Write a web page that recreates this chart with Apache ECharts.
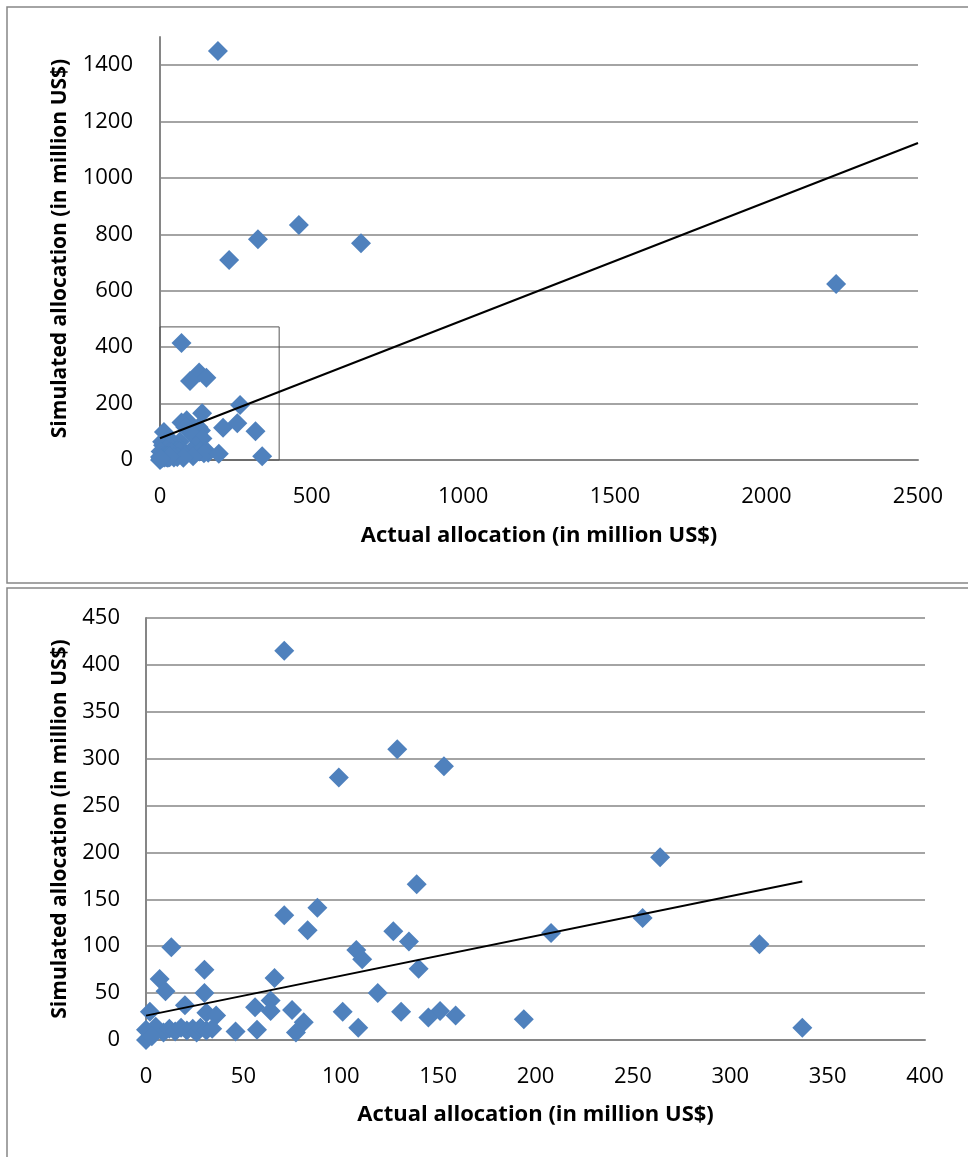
<!DOCTYPE html>
<html>
<head>
<meta charset="utf-8">
<script src="https://cdn.jsdelivr.net/npm/echarts@6/dist/echarts.min.js"></script>
<style>
html, body { margin: 0; padding: 0; background: #fff; }
#chart { width: 968px; height: 1157px; }
</style>
</head>
<body>
<div id="chart"></div>
<script>
// actual vs simulated allocation (million US$)
const actualAlloc = [
  71, 129, 153, 99, 264, 139, 88, 71, 255, 83,
  127, 208, 135, 315, 13, 108, 111, 140, 30, 66,
  7, 10, 30, 119, 64, 20, 56, 75, 2, 31,
  64, 101, 131, 151, 36, 159, 145, 194, 81, 109,
  337, 57, 46, 77, 0, 0, 5, 9, 12, 15,
  18, 21, 24, 26, 28, 31, 34, 3, 191, 228,
  323, 458, 663, 2230
];
const simulatedAlloc = [
  415, 310, 292, 280, 195, 166, 141, 133, 130, 117,
  116, 114, 105, 102, 99, 96, 86, 76, 75, 66,
  65, 52, 50, 50, 42, 37, 35, 32, 30, 29,
  31, 30, 30, 31, 26, 26, 24, 22, 19, 13,
  13, 11, 9, 8, 0, 11, 14, 8, 12, 9,
  13, 10, 12, 8, 13, 10, 12, 4, 1450, 709,
  783, 833, 769, 624
];
// linear trend lines (end points)
const trendAll = [[0, 77], [2500, 1124]];
const trendZoom = [[0, 26], [337, 169]];
// region shown enlarged in the lower chart
const zoomBox = [[0, 0], [393, 472]];

const points = actualAlloc.map((x, i) => [x, simulatedAlloc[i]]);
const zoomPoints = points.filter(p => p[0] <= 400 && p[1] <= 450);

const gray = "#868686";
const blue = "#4F81BD";
const font = "'Open Sans', sans-serif";
const xName = "Actual allocation (in million US$)";
const yName = "Simulated allocation (in million US$)";

const nameStyle = { fontFamily: font, fontSize: 22, fontWeight: "bold", color: "#000" };
const yNameStyle = Object.assign({}, nameStyle, { fontSize: 21 });
const labelStyle = { fontFamily: font, fontSize: 22, color: "#000", formatter: v => String(v) };

const chart = echarts.init(document.getElementById("chart"));
chart.setOption({
  animation: false,
  backgroundColor: "#fff",
  graphic: [
    { type: "rect", shape: { x: 7, y: 7, width: 990, height: 576 }, style: { fill: null, stroke: gray, lineWidth: 1.5 } },
    { type: "rect", shape: { x: 7, y: 588, width: 990, height: 600 }, style: { fill: null, stroke: gray, lineWidth: 1.5 } }
  ],
  grid: [
    { left: 160, right: 50, top: 37, bottom: 697 },
    { left: 146, right: 43, top: 618, bottom: 117 }
  ],
  xAxis: [
    {
      gridIndex: 0,
      type: "value",
      min: 0,
      max: 2500,
      interval: 500,
      name: xName,
      nameLocation: "middle",
      nameGap: 65,
      nameTextStyle: nameStyle,
      axisLine: { lineStyle: { color: gray, width: 2 } },
      axisTick: { show: false },
      axisLabel: Object.assign({ margin: 26 }, labelStyle),
      splitLine: { show: false }
    },
    {
      gridIndex: 1,
      type: "value",
      min: 0,
      max: 400,
      interval: 50,
      name: xName,
      nameLocation: "middle",
      nameGap: 64,
      nameTextStyle: nameStyle,
      axisLine: { lineStyle: { color: gray, width: 2 } },
      axisTick: { show: false },
      axisLabel: Object.assign({ margin: 26 }, labelStyle),
      splitLine: { show: false }
    }
  ],
  yAxis: [
    {
      gridIndex: 0,
      type: "value",
      min: 0,
      max: 1500,
      interval: 200,
      name: yName,
      nameLocation: "middle",
      nameGap: 89,
      nameTextStyle: yNameStyle,
      axisLine: { show: true, lineStyle: { color: gray, width: 2 } },
      axisTick: { show: false },
      axisLabel: Object.assign({ margin: 27, showMaxLabel: false }, labelStyle),
      splitLine: { show: true, showMaxLine: false, lineStyle: { color: gray, width: 1.5 } }
    },
    {
      gridIndex: 1,
      type: "value",
      min: 0,
      max: 450,
      interval: 50,
      name: yName,
      nameLocation: "middle",
      nameGap: 75,
      nameTextStyle: yNameStyle,
      axisLine: { show: true, lineStyle: { color: gray, width: 2 } },
      axisTick: { show: false },
      axisLabel: Object.assign({ margin: 26 }, labelStyle),
      splitLine: { show: true, lineStyle: { color: gray, width: 1.5 } }
    }
  ],
  series: [
    {
      type: "scatter",
      xAxisIndex: 0,
      yAxisIndex: 0,
      symbol: "diamond",
      symbolSize: 20,
      itemStyle: { color: blue, opacity: 1 },
      data: points,
      markArea: {
        silent: true,
        itemStyle: { color: "rgba(0,0,0,0)", borderColor: "#555", borderWidth: 1 },
        data: [[{ coord: zoomBox[0] }, { coord: zoomBox[1] }]]
      }
    },
    {
      type: "line",
      xAxisIndex: 0,
      yAxisIndex: 0,
      symbol: "none",
      lineStyle: { color: "#000", width: 2 },
      data: trendAll,
      z: 3
    },
    {
      type: "scatter",
      xAxisIndex: 1,
      yAxisIndex: 1,
      symbol: "diamond",
      symbolSize: 20,
      itemStyle: { color: blue, opacity: 1 },
      data: zoomPoints
    },
    {
      type: "line",
      xAxisIndex: 1,
      yAxisIndex: 1,
      symbol: "none",
      lineStyle: { color: "#000", width: 2 },
      data: trendZoom,
      z: 3
    }
  ]
});
window.addEventListener("resize", chart.resize);
</script>
</body>
</html>
